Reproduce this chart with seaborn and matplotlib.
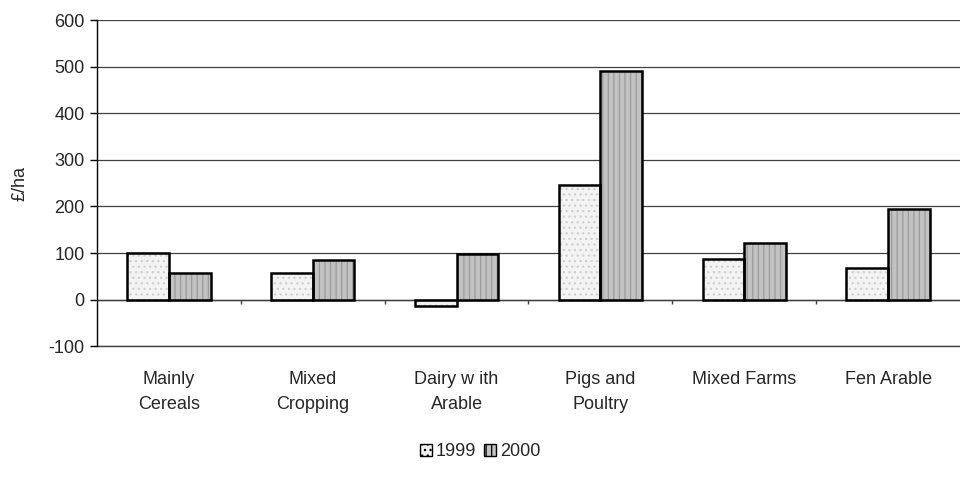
import matplotlib.pyplot as plt
import seaborn as sns
import pandas as pd
from matplotlib.patches import Patch, Rectangle

# Farm types and net farm income (GBP per hectare)
categories = ['Mainly\nCereals', 'Mixed\nCropping', 'Dairy w ith\nArable',
              'Pigs and\nPoultry', 'Mixed Farms', 'Fen Arable']
years = ['1999', '2000']
values_1999 = [100, 58, -14, 247, 88, 67]
values_2000 = [58, 84, 97, 491, 122, 195]

df = pd.DataFrame({'Tipo': categories * 2,
                   'Año': ['1999'] * 6 + ['2000'] * 6,
                   'Valor': values_1999 + values_2000})

sns.set_style("white")
plt.rcParams['font.family'] = ['Liberation Sans', 'DejaVu Sans']
plt.rcParams['axes.unicode_minus'] = False
plt.rcParams['hatch.linewidth'] = 0.9

fig = plt.figure(figsize=(9.6, 4.91), dpi=100)
ax = fig.add_axes([0.101, 0.295, 0.899, 0.664])

colores = {'1999': '#f3f3f3', '2000': '#c2c2c2'}
color_trama = {'1999': '#cfcfcf', '2000': '#9a9a9a'}
tramas = {'1999': '...', '2000': '|||'}

sns.barplot(data=df, x='Tipo', y='Valor', hue='Año', palette=colores,
            width=0.58, linewidth=0, saturation=1, ax=ax, legend=False)

# trama clara + borde negro encima
for cont, y in zip(ax.containers, years):
    for p in cont:
        p.set_hatch(tramas[y])
        p.set_edgecolor(color_trama[y])
        p.set_linewidth(0)
        ax.add_patch(Rectangle(p.get_xy(), p.get_width(), p.get_height(),
                               fill=False, edgecolor='black', linewidth=1.8,
                               zorder=p.get_zorder() + 0.1))

ax.set_ylim(-100, 600)
ax.set_yticks(range(-100, 601, 100))
ax.set_xlim(-0.5, 5.5)
ax.yaxis.grid(True, color='#404040', linewidth=0.9)
ax.set_axisbelow(True)
ax.axhline(0, color='#404040', linewidth=1.0, zorder=1)
ax.axhline(-100, color='#404040', linewidth=1.0, zorder=1, clip_on=False)
ax.vlines([i + 0.5 for i in range(5)], -9, 0, color='#404040', linewidth=1.0)

for s in ['top', 'right', 'bottom']:
    ax.spines[s].set_visible(False)
ax.spines['left'].set_color('black')
ax.spines['left'].set_linewidth(1.0)

ax.tick_params(axis='y', left=True, length=5, width=1, color='black',
               labelsize=13, pad=4)
ax.tick_params(axis='x', length=0, labelsize=13, pad=18)
for t in ax.get_xticklabels():
    t.set_linespacing(1.6)
ax.set_xlabel('')
ax.set_ylabel('£/ha', fontsize=13, labelpad=14)

handles = [Patch(facecolor=colores[y], edgecolor='black', hatch=tramas[y], label=y)
           for y in years]
fig.legend(handles=handles, loc='center', bbox_to_anchor=(0.5, 0.08), ncol=2,
           frameon=False, fontsize=13, handlelength=0.7, handleheight=0.7,
           handletextpad=0.2, columnspacing=0.4)

plt.savefig('out.png', dpi=100)
